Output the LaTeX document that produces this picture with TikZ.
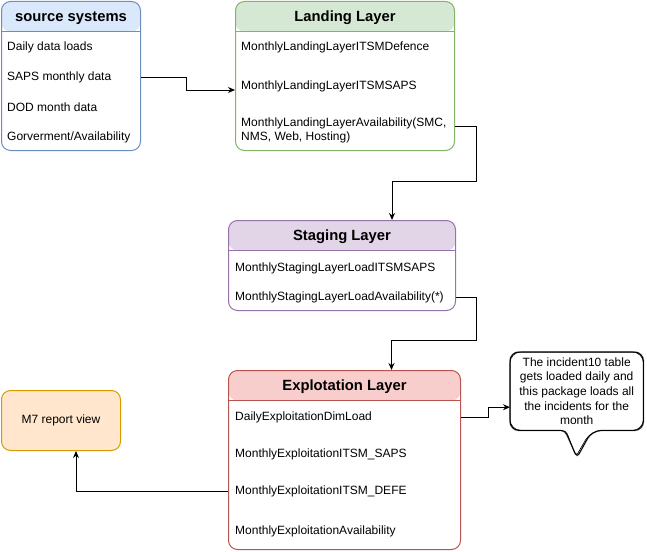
\documentclass[tikz,border=0pt]{standalone}
\usepackage{fontspec}
\setmainfont{Liberation Sans}
\usetikzlibrary{arrows.meta, positioning, calc}

\definecolor{srcfill}{HTML}{DAE8FC}
\definecolor{srcline}{HTML}{6C8EBF}
\definecolor{landfill}{HTML}{D5E8D4}
\definecolor{landline}{HTML}{82B366}
\definecolor{stagefill}{HTML}{E1D5E7}
\definecolor{stageline}{HTML}{9673A6}
\definecolor{explfill}{HTML}{F8CECC}
\definecolor{explline}{HTML}{B85450}
\definecolor{viewfill}{HTML}{FFE6CC}
\definecolor{viewline}{HTML}{D79B00}

\begin{document}
\begin{tikzpicture}[
    x=1pt, y=-1pt,
    layer/.style 2 args={draw=#1, fill=white, line width=1pt, rounded corners=9pt,
                anchor=north west, inner sep=0pt,
                path picture={
                  \fill[#2] (path picture bounding box.north west) rectangle
                       ([yshift=-30pt]path picture bounding box.north east);
                  \draw[#1, line width=1pt] ([yshift=-30pt]path picture bounding box.north west) --
                       ([yshift=-30pt]path picture bounding box.north east);}},
    title/.style={font=\fontsize{14.8}{16}\selectfont\bfseries, inner sep=0pt},
    item/.style={anchor=west, inner sep=0pt, font=\fontsize{12}{14}\selectfont},
    view/.style={draw=viewline, fill=viewfill, line width=1pt, rounded corners=9pt,
                anchor=north west, minimum width=119pt, minimum height=60pt,
                font=\fontsize{12}{14}\selectfont},
    notetext/.style={anchor=north west, minimum width=133pt, minimum height=78pt,
                inner sep=0pt, align=center, font=\fontsize{12}{14.6}\selectfont},
    notepath/.style={line width=1pt, rounded corners=9pt},
    arr/.style={-{Stealth[length=7pt, width=6pt]}, line width=1pt}
]
    \useasboundingbox (0,0) rectangle (647,551);

    % source systems
    \node[layer={srcline}{srcfill}, minimum width=139pt, minimum height=149pt] (src) at (1,1) {};
    \node[title] (srctitle) at ([yshift=-17]src.north) {source systems};
    \node[item] (srcdaily) at (7,47) {Daily data loads};
    \node[item] (srcsaps) at (7,77) {SAPS monthly data};
    \node[item] (srcdod) at (7,107) {DOD month data};
    \node[item] (srcgov) at (7,137) {Gorverment/Availability};

    % landing layer
    \node[layer={landline}{landfill}, minimum width=219pt, minimum height=149pt] (land) at (235,1) {};
    \node[title] (landtitle) at ([yshift=-17]land.north) {Landing Layer};
    \node[item] (landdef) at (241,47) {MonthlyLandingLayerITSMDefence};
    \node[item] (landsaps) at (241,86) {MonthlyLandingLayerITSMSAPS};
    \node[item, anchor=north west, align=left, font=\fontsize{12}{13.5}\selectfont] (landavail) at (241,118)
        {MonthlyLandingLayerAvailability(SMC,\\NMS, Web, Hosting)};

    % staging layer
    \node[layer={stageline}{stagefill}, minimum width=227pt, minimum height=90pt] (stage) at (228,220) {};
    \node[title] (stagetitle) at ([yshift=-17]stage.north) {Staging Layer};
    \node[item] (stsaps) at (235,268) {MonthlyStagingLayerLoadITSMSAPS};
    \node[item] (stavail) at (235,297) {MonthlyStagingLayerLoadAvailability(*)};

    % explotation layer
    \node[layer={explline}{explfill}, minimum width=232pt, minimum height=179pt] (expl) at (228,370) {};
    \node[title] (expltitle) at ([yshift=-17]expl.north) {Explotation Layer};
    \node[item] (exdim) at (235,417) {DailyExploitationDimLoad};
    \node[item] (exsaps) at (235,454) {MonthlyExploitationITSM\_SAPS};
    \node[item] (exdefe) at (235,491) {MonthlyExploitationITSM\_DEFE};
    \node[item] (exavail) at (235,531) {MonthlyExploitationAvailability};

    % report view
    \node[view] (m7) at (1,390) {M7 report view};

    % note
    \node[notetext] (note) at (510,352)
        {The incident10 table\\gets loaded daily and\\this package loads all\\the incidents for the\\month};
    \draw[notepath, gray!45, line width=2pt, shift={(2,2)}] (note.north west) -- (note.north east)
        -- (note.south east) -- ([xshift=82]note.south west) [rounded corners=4pt]
        -- ([xshift=67,yshift=-27]note.south west) -- ([xshift=55]note.south west)
        [rounded corners=9pt] -- (note.south west) -- cycle;
    \draw[notepath, fill=white] (note.north west) -- (note.north east)
        -- (note.south east) -- ([xshift=82]note.south west) [rounded corners=4pt]
        -- ([xshift=67,yshift=-27]note.south west) -- ([xshift=55]note.south west)
        [rounded corners=9pt] -- (note.south west) -- cycle;
    \draw[notepath, line width=0.6pt, rounded corners=11pt, shift={(0.8,-0.7)}] (note.north west) -- (note.north east)
        -- (note.south east) -- ([xshift=81]note.south west) [rounded corners=4pt]
        -- ([xshift=66,yshift=-26]note.south west) -- ([xshift=56]note.south west)
        [rounded corners=11pt] -- (note.south west) -- cycle;
    \node[notetext] (notelabel) at (note.north west)
        {The incident10 table\\gets loaded daily and\\this package loads all\\the incidents for the\\month};

    % connectors
    \draw[arr] (src.east |- srcsaps) -- ++(45,0) |- ([yshift=-4]land.west |- landsaps);
    \draw[arr] ([yshift=-8]land.east |- landavail.north) -- ++(21,0) -- ++(0,55)
        -| ([xshift=50]stage.north);
    \draw[arr] (stage.east |- stavail) -- ++(20,0) -- ++(0,43) -| ([xshift=47]expl.north);
    \draw[arr] (expl.west |- exdefe) -| ([xshift=15]m7.south);
    \draw[arr] (expl.east |- exdim) -- ++(27,0) |- ([yshift=-16]note.west);
\end{tikzpicture}
\end{document}
